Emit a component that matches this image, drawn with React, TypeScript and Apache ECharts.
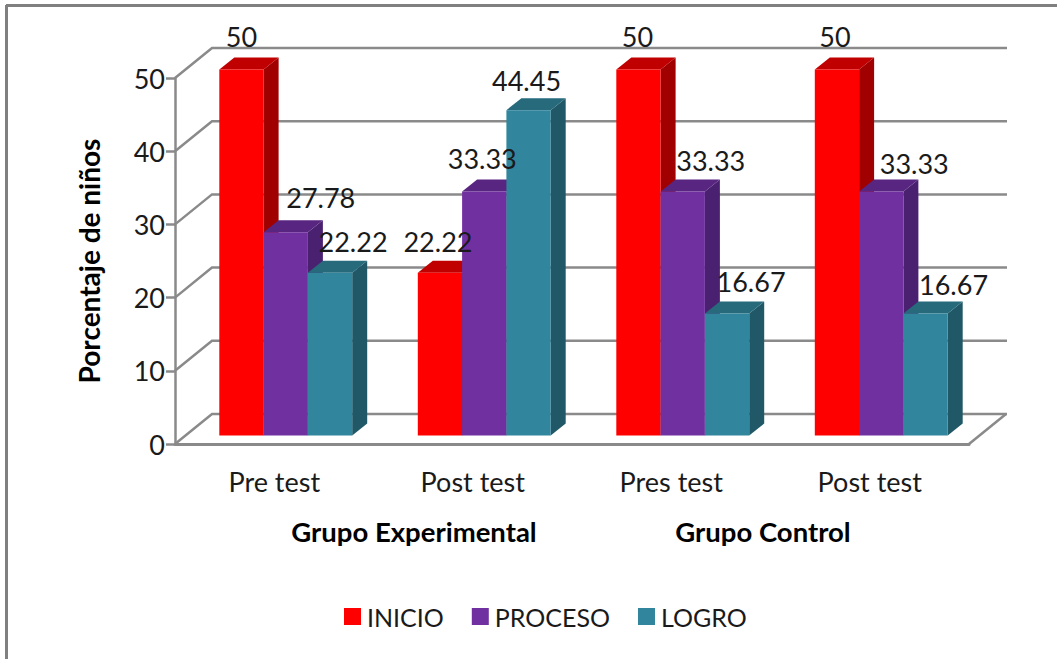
import React, { useEffect, useRef } from "react";
import * as echarts from "echarts";

const categories = ["Pre test", "Post test", "Pres test", "Post test"];
const seriesNames = ["INICIO", "PROCESO", "LOGRO"];
const inicio = [50, 22.22, 50, 50];
const proceso = [27.78, 33.33, 33.33, 33.33];
const logro = [22.22, 44.45, 16.67, 16.67];
const tickValues = [0, 10, 20, 30, 40, 50];
const groupLabels = ["Grupo Experimental", "Grupo Control"];

const FONT = "Lato";
const faceColors = ["#FF0000", "#7030A0", "#31859C"];
const sideColors = ["#A00000", "#4A2070", "#205867"];
const topColors = ["#C00000", "#582580", "#266A7C"];
const labelShift = [
  [[0, -33], [-2, -31], [-1, -33], [-2, -33]],
  [[35, -35], [-2, -33], [28, -31], [33, -28]],
  [[23, -31], [-2, -30], [24, -32], [28, -29]],
];
const BAR_W = 44.3;
const DEPTH_X = 15;
const DEPTH_Y = 12;
const BAR_UP = 8.5;
const GROUP_DX = 11.5;
const WALL_X = 37;
const WALL_Y = 30;
const GRID_COLOR = "#8A8A8A";

function barRender(params: any, api: any) {
  const s = params.seriesIndex - 1;
  const i = api.value(0);
  const v = api.value(1);
  const top = api.coord([i, v]);
  const base = api.coord([i, 0]);
  const x0 = top[0] + GROUP_DX - 1.5 * BAR_W + s * BAR_W;
  const x1 = x0 + BAR_W;
  const yt = top[1] - BAR_UP;
  const yb = base[1] - BAR_UP;
  const shift = labelShift[s][i];
  return {
    type: "group",
    children: [
      {
        type: "polygon",
        shape: { points: [[x1, yt], [x1 + DEPTH_X, yt - DEPTH_Y], [x1 + DEPTH_X, yb - DEPTH_Y], [x1, yb]] },
        style: { fill: sideColors[s] },
      },
      {
        type: "polygon",
        shape: { points: [[x0, yt], [x0 + DEPTH_X, yt - DEPTH_Y], [x1 + DEPTH_X, yt - DEPTH_Y], [x1, yt]] },
        style: { fill: topColors[s] },
      },
      {
        type: "rect",
        shape: { x: x0, y: yt, width: BAR_W, height: yb - yt },
        style: { fill: faceColors[s] },
      },
      {
        type: "text",
        z2: 50,
        x: x0 + BAR_W / 2 + shift[0],
        y: yt + shift[1],
        style: {
          text: String(v),
          fontFamily: FONT,
          fontSize: 27,
          fill: "#1a1a1a",
          align: "center",
          verticalAlign: "middle",
        },
      },
    ],
  };
}

function wallRender(params: any, api: any) {
  const v = api.value(1);
  const y = api.coord([0, v])[1];
  const cs = params.coordSys;
  const left = cs.x;
  const right = cs.x + cs.width;
  const lineStyle = { stroke: GRID_COLOR, lineWidth: 2.5, fill: "none" };
  const children: any[] = [
    {
      type: "polyline",
      shape: { points: [[left, y], [left + WALL_X, y - WALL_Y], [right + WALL_X + 1, y - WALL_Y]] },
      style: lineStyle,
    },
  ];
  if (v === 0) {
    children.push({
      type: "polyline",
      shape: { points: [[right, y], [right + WALL_X, y - WALL_Y]] },
      style: lineStyle,
    });
  }
  return { type: "group", children };
}

export default function App() {
  const ref = useRef<HTMLDivElement>(null);
  useEffect(() => {
    const chart = echarts.init(ref.current!, undefined, { renderer: "svg" });
    const barData = [inicio, proceso, logro];
    chart.setOption({
      animation: false,
      backgroundColor: "#ffffff",
      textStyle: { fontFamily: FONT },
      grid: { left: 175, top: 78, width: 794, height: 366, containLabel: false },
      xAxis: {
        type: "category",
        data: categories,
        axisTick: { show: false },
        axisLine: { lineStyle: { color: GRID_COLOR, width: 3 } },
        axisLabel: { fontFamily: FONT, fontSize: 27, color: "#1a1a1a", margin: 24, interval: 0 },
      },
      yAxis: {
        type: "value",
        min: 0,
        max: 50,
        interval: 10,
        name: "Porcentaje de niños",
        nameLocation: "middle",
        nameGap: 72,
        nameRotate: 90,
        nameTextStyle: { fontFamily: FONT, fontSize: 28, fontWeight: "bold", color: "#000" },
        axisLine: { show: true, lineStyle: { color: GRID_COLOR, width: 2.5 } },
        axisTick: { show: true, length: 9, lineStyle: { color: GRID_COLOR, width: 2.5 } },
        axisLabel: { fontFamily: FONT, fontSize: 27, color: "#1a1a1a", margin: 10 },
        splitLine: { show: false },
      },
      legend: {
        left: 339,
        top: 599,
        itemWidth: 17,
        itemHeight: 17,
        itemGap: 28,
        icon: "rect",
        data: seriesNames,
        textStyle: { fontFamily: FONT, fontSize: 25, color: "#1a1a1a", padding: [0, 0, 0, 1] },
      },
      series: [
        {
          type: "custom",
          renderItem: wallRender,
          clip: false,
          silent: true,
          z: 1,
          encode: { x: 0, y: 1 },
          data: tickValues.map((t) => [0, t]),
        },
        ...seriesNames.map((name, s) => ({
          type: "custom",
          name,
          renderItem: barRender,
          clip: false,
          z: 3,
          itemStyle: { color: faceColors[s] },
          encode: { x: 0, y: 1 },
          data: barData[s].map((v, i) => [i, v]),
        })),
      ],
      graphic: [
        { type: "line", shape: { x1: 6, y1: 5.5, x2: 1057, y2: 5.5 }, style: { stroke: "#808080", lineWidth: 3 } },
        { type: "line", shape: { x1: 6.5, y1: 5, x2: 6.5, y2: 659 }, style: { stroke: "#808080", lineWidth: 3 } },
        {
          type: "text",
          x: 414,
          y: 531,
          style: { text: groupLabels[0], fontFamily: FONT, fontSize: 27.5, fontWeight: "bold", fill: "#000", align: "center", verticalAlign: "middle" },
        },
        {
          type: "text",
          x: 763,
          y: 531,
          style: { text: groupLabels[1], fontFamily: FONT, fontSize: 27.5, fontWeight: "bold", fill: "#000", align: "center", verticalAlign: "middle" },
        },
      ],
    });
    return () => chart.dispose();
  }, []);
  return <div ref={ref} style={{ position: "absolute", left: 0, top: 0, width: 1057, height: 659 }} />;
}
